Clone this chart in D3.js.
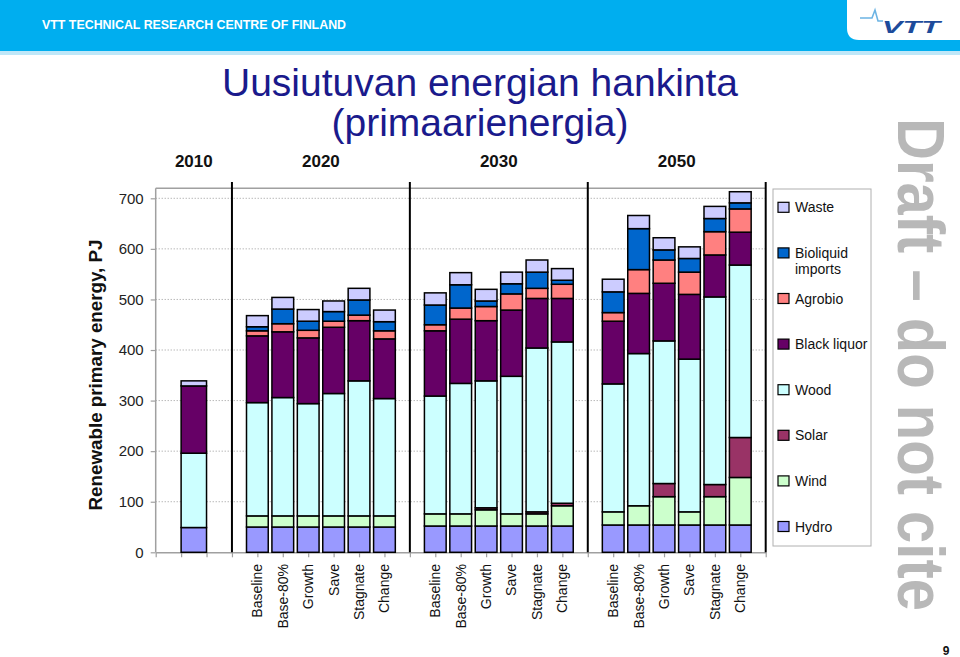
<!DOCTYPE html>
<html><head><meta charset="utf-8">
<script src="https://cdn.jsdelivr.net/npm/d3@7"></script>
<style>
html,body{margin:0;padding:0;background:#fff;}
svg{display:block;font-family:"Liberation Sans",Arial,sans-serif;}
</style></head>
<body>
<svg id="chart" width="960" height="657"></svg>
<script>
// ---------- data ----------
const groupYears = ["2010", "2020", "2030", "2050"];
const scenarios = ["Baseline", "Base-80%", "Growth", "Save", "Stagnate", "Change"];
const groupCats = [[""], scenarios, scenarios, scenarios];
const sources = ["Hydro", "Wind", "Solar", "Wood", "Black liquor", "Agrobio", "Bioliquid imports", "Waste"];
const legendLabels = ["Waste", "Bioliquid imports", "Agrobio", "Black liquor", "Wood", "Solar", "Wind", "Hydro"];
const yTicks = [0, 100, 200, 300, 400, 500, 600, 700];

//                 2010 | 2020 Base,B80,Grow,Save,Stag,Chg | 2030 ... | 2050 ...
const hydro       = [49,  50, 50, 50, 50, 50, 50,   52, 52, 52, 52, 52, 52,   54, 54, 54, 54, 54, 54];
const wind        = [0,   22, 22, 22, 22, 22, 22,   24, 24, 32, 24, 24, 40,   26, 38, 56, 26, 56, 94];
const solar       = [0,   0, 0, 0, 0, 0, 0,         0, 0, 4, 0, 4, 5,         0, 0, 26, 0, 24, 79];
const wood        = [147, 224, 234, 222, 242, 267, 232,  233, 258, 251, 272, 324, 319,  253, 301, 282, 302, 371, 341];
const blackLiquor = [133, 132, 130, 130, 131, 119, 118,  129, 127, 119, 131, 98, 86,    124, 119, 114, 128, 83, 65];
const agrobio     = [0,   10, 16, 15, 12, 11, 16,   12, 22, 28, 32, 20, 28,   17, 47, 46, 44, 46, 46];
const bioliquid   = [0,   8, 29, 18, 19, 30, 18,    39, 46, 11, 20, 32, 8,    41, 81, 20, 27, 26, 12];
const waste       = [10,  22, 23, 23, 21, 23, 23,   24, 24, 23, 23, 24, 23,   25, 26, 24, 23, 24, 22];

const seriesValues = {
  "Hydro": hydro, "Wind": wind, "Solar": solar, "Wood": wood,
  "Black liquor": blackLiquor, "Agrobio": agrobio, "Bioliquid imports": bioliquid, "Waste": waste
};

// ---------- styles / layout ----------
const colors = {
  "Hydro": "#9999ff", "Wind": "#ccffcc", "Solar": "#993366", "Wood": "#ccffff",
  "Black liquor": "#660066", "Agrobio": "#ff8080", "Bioliquid imports": "#0066cc", "Waste": "#ccccff"
};
const groupSlots = [3, 7, 7, 7];
const plot = {left: 155.7, right: 765.7, top: 188.3, bottom: 552.3};
const FONT = '"Liberation Sans", Arial, sans-serif';

const svg = d3.select("#chart");

// ---------- header ----------
svg.append("rect").attr("x", 0).attr("y", 0).attr("width", 960).attr("height", 51).attr("fill", "#00aeef");
svg.append("rect").attr("x", 0).attr("y", 51).attr("width", 960).attr("height", 4).attr("fill", "#bfe7f8");
svg.append("text").attr("x", 42).attr("y", 29).attr("fill", "#fff")
  .attr("font-size", 12.4).attr("font-weight", "bold")
  .text("VTT TECHNICAL RESEARCH CENTRE OF FINLAND");
svg.append("path")
  .attr("d", "M847,0 H960 V40 H859 Q847,40 847,28 Z")
  .attr("fill", "#fff");
svg.append("path")
  .attr("d", "M860,18 L872,18 L875,10 L878,21 L883,21")
  .attr("fill", "none").attr("stroke", "#6cb4e4").attr("stroke-width", 1.6);
svg.append("text").attr("x", 882).attr("y", 33).attr("fill", "#1d4b9b")
  .attr("font-size", 17).attr("font-weight", "bold").attr("font-style", "italic")
  .attr("textLength", 58).attr("lengthAdjust", "spacingAndGlyphs")
  .text("VTT");

// ---------- title ----------
svg.append("text").attr("x", 480).attr("y", 96).attr("text-anchor", "middle")
  .attr("font-size", 39).attr("fill", "#1a1a8c").text("Uusiutuvan energian hankinta");
svg.append("text").attr("x", 480).attr("y", 136).attr("text-anchor", "middle")
  .attr("font-size", 39).attr("fill", "#1a1a8c").text("(primaarienergia)");

// ---------- scales ----------
const xu = d3.scaleLinear().domain([0, d3.sum(groupSlots)]).range([plot.left, plot.right]);
const y = d3.scaleLinear().domain([0, 700]).range([plot.bottom, 198.3]);

// build rows
const rows = [];
const groupInfo = [];
let cursor = 0, flat = 0;
groupCats.forEach((cats, gi) => {
  const start = cursor, end = cursor + groupSlots[gi];
  groupInfo.push({year: groupYears[gi], start, end});
  const ps = d3.scalePoint().domain(d3.range(cats.length)).range([start, end]).padding(1);
  cats.forEach((c, k) => {
    const r = {label: c, pos: ps(k), bw: cats.length === 1 ? 1 : 0.855};
    sources.forEach(s => r[s] = seriesValues[s][flat]);
    rows.push(r);
    flat++;
  });
  cursor = end;
});

// gridlines
svg.append("g").selectAll("line").data(yTicks.filter(d => d > 0)).join("line")
  .attr("x1", plot.left).attr("x2", plot.right)
  .attr("y1", d => y(d)).attr("y2", d => y(d))
  .attr("stroke", "#999").attr("stroke-width", 1).attr("stroke-dasharray", "1,2");

// plot frame top
svg.append("line").attr("x1", plot.left).attr("x2", plot.right)
  .attr("y1", plot.top).attr("y2", plot.top).attr("stroke", "#a0a0a0").attr("stroke-width", 1.5);

// y axis
const yAxis = svg.append("g").attr("transform", `translate(${plot.left},0)`)
  .call(d3.axisLeft(y).tickValues(yTicks).tickSize(5).tickPadding(7).tickSizeOuter(0));
yAxis.select(".domain").attr("stroke", "#a0a0a0").attr("stroke-width", 1.5)
  .attr("d", `M0,${plot.top}V${plot.bottom}`);
yAxis.selectAll(".tick line").attr("stroke", "#a0a0a0").attr("stroke-width", 1.2);
yAxis.selectAll(".tick text").attr("font-size", 15).attr("font-family", FONT).attr("fill", "#222");

// x axis (tick marks only)
const xAxis = svg.append("g").attr("transform", `translate(0,${plot.bottom})`)
  .call(d3.axisBottom(xu).tickValues(d3.range(d3.sum(groupSlots) + 1)).tickFormat("").tickSize(5).tickSizeOuter(0));
xAxis.select(".domain").attr("stroke", "#a0a0a0").attr("stroke-width", 1.5);
xAxis.selectAll(".tick line").attr("stroke", "#a0a0a0").attr("stroke-width", 1.2);

// group separators
svg.append("g").selectAll("line").data(groupInfo.map(g => g.end)).join("line")
  .attr("x1", d => xu(d)).attr("x2", d => xu(d))
  .attr("y1", 182).attr("y2", plot.bottom)
  .attr("stroke", "#000").attr("stroke-width", 2);

// year labels
svg.append("g").selectAll("text").data(groupInfo).join("text")
  .attr("x", d => xu((d.start + d.end) / 2)).attr("y", 167)
  .attr("text-anchor", "middle").attr("font-size", 17).attr("font-weight", "bold")
  .attr("fill", "#111").text(d => d.year);

// stacked bars
const stacked = d3.stack().keys(sources)(rows);
const unit = xu(1) - xu(0);
svg.append("g").selectAll("g").data(stacked).join("g")
  .attr("fill", d => colors[d.key])
  .selectAll("rect").data(d => d.filter(p => p[1] - p[0] > 0)).join("rect")
  .attr("x", p => xu(p.data.pos) - p.data.bw * unit / 2)
  .attr("width", p => p.data.bw * unit)
  .attr("y", p => y(p[1]))
  .attr("height", p => y(p[0]) - y(p[1]))
  .attr("stroke", "#000").attr("stroke-width", 1.5);

// x category labels
svg.append("g").selectAll("text").data(rows.filter(r => r.label)).join("text")
  .attr("transform", r => `translate(${xu(r.pos)},564) rotate(-90)`)
  .attr("dy", "0.35em").attr("text-anchor", "end")
  .attr("font-size", 14).attr("fill", "#111").text(r => r.label);

// y axis title
svg.append("text").attr("transform", "translate(102,375) rotate(-90)")
  .attr("text-anchor", "middle").attr("font-size", 18.8).attr("font-weight", "bold")
  .attr("fill", "#111").text("Renewable primary energy, PJ");

// legend
svg.append("rect").attr("x", 773).attr("y", 189).attr("width", 98).attr("height", 357)
  .attr("fill", "#fff").attr("stroke", "#b0b0b0").attr("stroke-width", 1);
const lg = svg.append("g").selectAll("g").data(legendLabels).join("g")
  .attr("transform", (d, i) => `translate(778,${207.3 + i * 45.6})`);
lg.append("rect").attr("x", 0).attr("y", -5)
  .attr("width", 11).attr("height", 10)
  .attr("fill", d => colors[d]).attr("stroke", "#000").attr("stroke-width", 1.2);
lg.each(function(d) {
  const g = d3.select(this);
  const lines = d === "Bioliquid imports" ? ["Bioliquid", "imports"] : [d];
  const t = g.append("text").attr("x", 17).attr("y", 5).attr("font-size", 14).attr("fill", "#111");
  lines.forEach((ln, i) => t.append("tspan").attr("x", 17).attr("dy", i === 0 ? 0 : 16.5).text(ln));
});

// watermark
svg.append("text").attr("transform", "translate(898,118) rotate(90) scale(1,1.15)")
  .attr("font-size", 58).attr("font-weight", "bold").attr("fill", "#b8b8b8")
  .text("Draft – do not cite");

// page number
svg.append("text").attr("x", 946).attr("y", 655).attr("text-anchor", "middle")
  .attr("font-size", 12).attr("font-weight", "bold").attr("fill", "#111").text("9");
</script>
</body></html>
